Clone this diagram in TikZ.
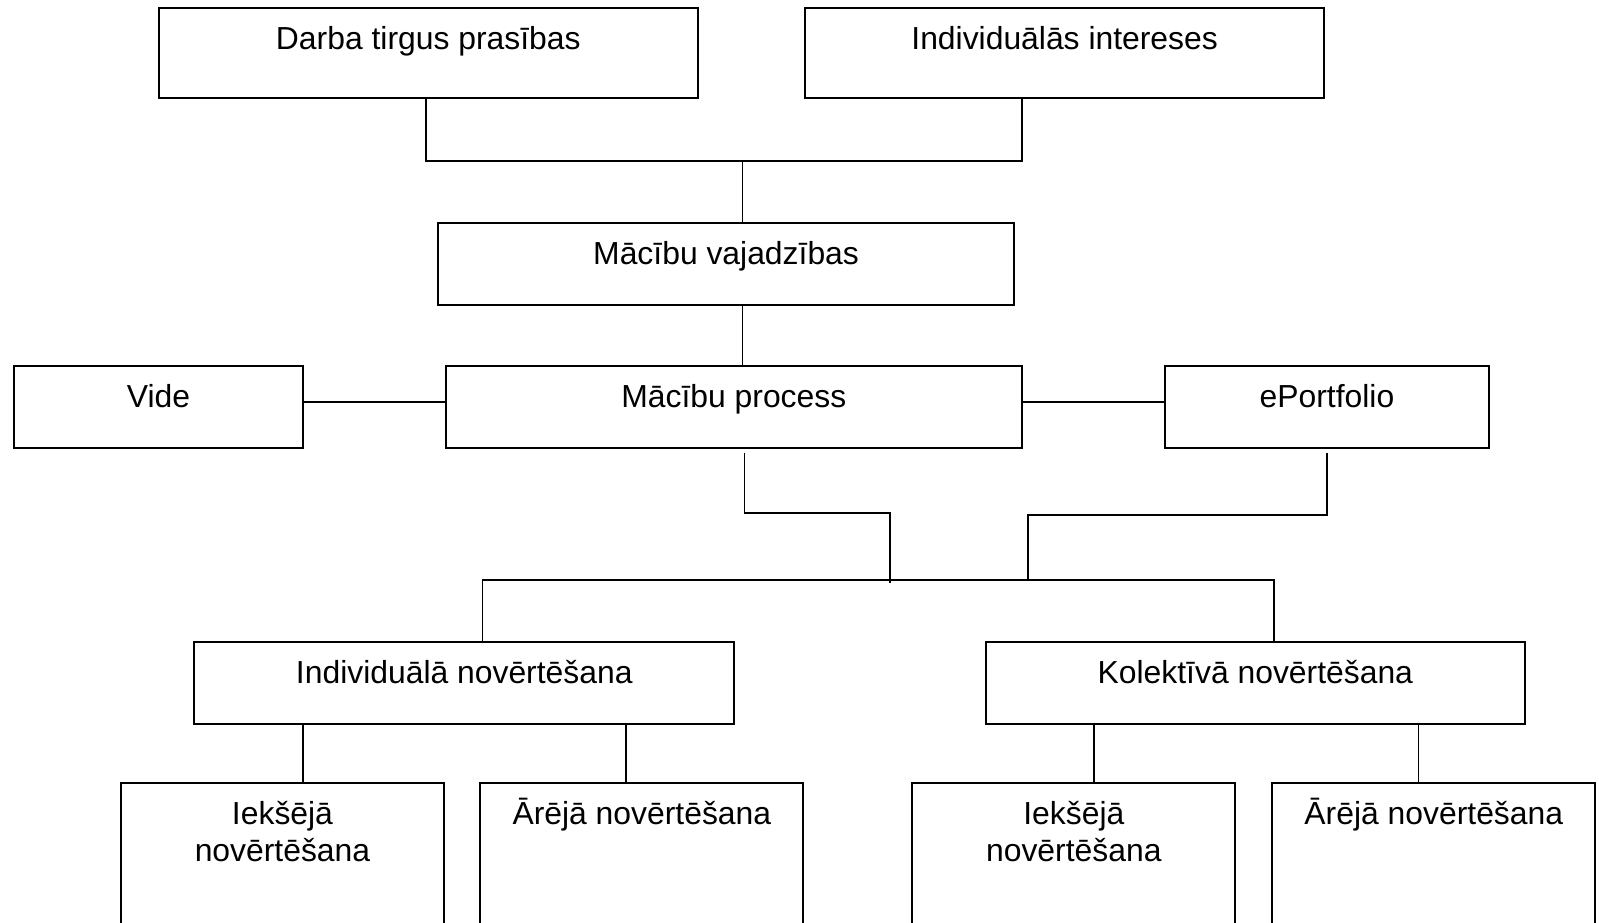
\documentclass[tikz,border=0pt]{standalone}
\usepackage{fontspec}
\setmainfont{Liberation Sans}

\tikzstyle{plan_box}=[rectangle,
                       draw=black,
                       line width=0.78pt,
                       inner sep=0pt, outer sep=0pt,
                       anchor=north, align=center,
                       font=\fontsize{12.5}{14.4}\selectfont,
                       text height=16.4pt, text depth=16pt,
                       minimum height=32.4pt, ]
\tikzstyle{top_box}=[plan_box, text depth=18.8pt, minimum height=35.2pt, ]
\tikzstyle{leaf_box}=[plan_box, text depth=43.6pt, minimum height=60pt,
                       minimum width=126.8pt, ]
\tikzstyle{leaf_box_two}=[leaf_box, text height=30.8pt, text depth=29.2pt, ]
\tikzstyle{link}=[draw=black, line width=0.65pt, ]

\begin{document}
\begin{tikzpicture}[x=0.4pt, y=-0.4pt]
  \useasboundingbox (0,0) rectangle (1568,905);
  \clip (0,0) rectangle (1568,905);

  % Inputs
  % -------------------------------------------------------------
  \node at (420,8) (darba) [top_box, minimum width=211.6pt] {Darba tirgus prasības};
  \node at (1044,8) (intereses) [top_box, minimum width=203.8pt] {Individuālās intereses};
  \node at (712,218.4) (vajadzibas) [plan_box, minimum width=226pt] {Mācību vajadzības};

  \coordinate (top_l) at (418,158);
  \coordinate (top_r) at (1002,158);
  \coordinate (spine) at (728,0);
  \draw[link] (darba.south -| top_l) |- (top_r) -- (intereses.south -| top_r);
  \draw[link] (top_l -| spine) -- (vajadzibas.north -| spine);

  % Process row
  % -------------------------------------------------------------
  \node at (155.5,358.5) (vide) [plan_box, minimum width=113.2pt] {Vide};
  \node at (719.6,358.5) (process) [plan_box, minimum width=226pt] {Mācību process};
  \node at (1301.2,358.5) (portfolio) [plan_box, minimum width=127pt] {ePortfolio};

  \coordinate (side) at (0,394);
  \draw[link] (vajadzibas.south -| spine) -- (process.north -| spine);
  \draw[link] (vide.east |- side) -- (process.west |- side);
  \draw[link] (process.east |- side) -- (portfolio.west |- side);

  % Evaluation
  % -------------------------------------------------------------
  \node at (455.3,629.2) (indiv_eval) [plan_box, minimum width=211.8pt] {Individuālā novērtēšana};
  \node at (1231,629.2) (kolekt_eval) [plan_box, minimum width=211.6pt] {Kolektīvā novērtēšana};

  \coordinate (proc_leg) at (730,444);
  \coordinate (proc_knee) at (873,503);
  \coordinate (proc_foot) at (873,572);
  \coordinate (port_leg) at (1301,444);
  \coordinate (port_knee) at (1008,505);
  \coordinate (bar_l) at (473,569);
  \coordinate (bar_r) at (1249,569);
  \draw[link] (proc_leg) |- (proc_knee) -- (proc_foot);
  \draw[link] (port_leg) |- (port_knee) -- (port_knee |- bar_l);
  \draw[link] (indiv_eval.north -| bar_l) -- (bar_l) -- (bar_r) -- (kolekt_eval.north -| bar_r);

  \foreach \n/\x/\s/\t in {iek_a/277/leaf_box_two/{Iekšējā\\novērtēšana},
                           are_a/629.4/leaf_box/{Ārējā novērtēšana},
                           iek_b/1053/leaf_box_two/{Iekšējā\\novērtēšana},
                           are_b/1406/leaf_box/{Ārējā novērtēšana}} {
      \node at (\x,768) (\n) [\s] {\t};
    }
  \foreach \p/\c/\x in {indiv_eval/iek_a/297, indiv_eval/are_a/614,
                        kolekt_eval/iek_b/1073, kolekt_eval/are_b/1391} {
      \coordinate (leg_\c) at (\x,0);
      \draw[link] (\p.south -| leg_\c) -- (\c.north -| leg_\c);
    }
\end{tikzpicture}
\end{document}
